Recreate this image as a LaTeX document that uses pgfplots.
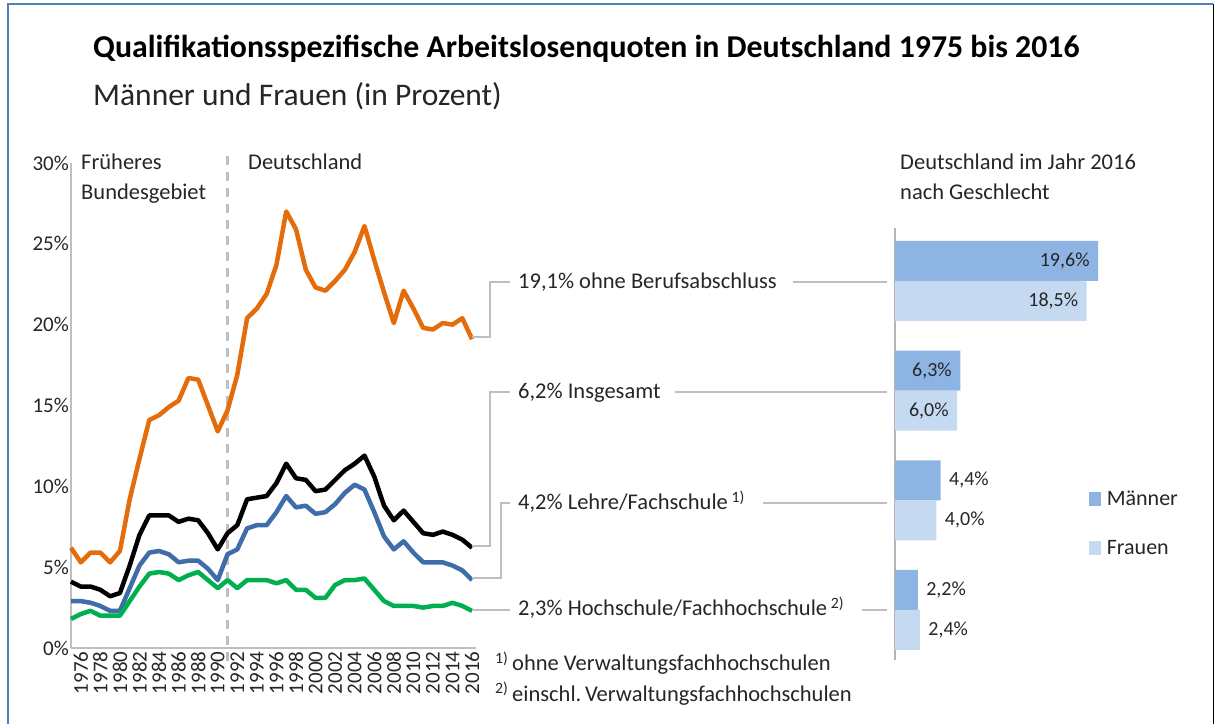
\documentclass[border=0pt]{standalone}
\usepackage{fontspec}
\setmainfont{Carlito}
\usepackage{pgfplots}
\pgfplotsset{compat=1.18}
\definecolor{cOr}{HTML}{E46C0A}
\definecolor{cBl}{HTML}{3F6DAA}
\definecolor{cGr}{HTML}{00B050}
\definecolor{cM}{HTML}{8DB4E2}
\definecolor{cF}{HTML}{C5D9F1}
\definecolor{cLine}{HTML}{BFBFBF}
\definecolor{cText}{HTML}{262626}
\definecolor{cFrame}{HTML}{4F81BD}
\newcommand{\bodyfont}{\fontsize{22.5}{27}\selectfont}
\begin{document}
\begin{tikzpicture}
\fill[white] (0pt,0pt) rectangle (1217pt,724pt);
\draw[cFrame, line width=2pt] (8pt,0pt) -- (8pt,720pt) -- (1213pt,720pt);
\draw[black, line width=1pt] (1213pt,720pt) -- (1213pt,0pt);

\begin{axis}[at={(71pt,76pt)}, anchor=south west, scale only axis,
  width=405pt, height=485pt,
  xmin=1975, xmax=2016.4, ymin=0, ymax=30,
  axis x line=bottom, axis y line=left,
  axis line style={draw=cLine, line width=1.5pt, -},
  major tick length=0pt,
  ytick={0,5,...,30},
  yticklabel={\pgfmathprintnumber{\tick}\%},
  xtick={1976,1978,...,2016},
  xticklabel style={rotate=90, anchor=east, /pgf/number format/1000 sep={}},
  tick label style={font=\fontsize{21}{24}\selectfont, text=cText},
  yticklabel style={inner sep=2pt},
  /pgf/number format/assume math mode=true,
  clip=false, line join=round]
\draw[cLine, line width=2.5pt, dash pattern=on 9pt off 7pt] (axis cs:1991,-0.8) -- (axis cs:1991,30.8);
\addplot[cOr, line width=4.5pt] coordinates {
(1975,6.2)(1976,5.3)(1977,5.9)(1978,5.9)(1979,5.3)(1980,6.0)(1981,9.2)(1982,11.7)
(1983,14.1)(1984,14.4)(1985,14.9)(1986,15.3)(1987,16.7)(1988,16.6)(1989,15.0)(1990,13.4)
(1991,14.7)(1992,16.9)(1993,20.4)(1994,21.0)(1995,21.9)(1996,23.7)(1997,27.0)(1998,25.9)
(1999,23.4)(2000,22.3)(2001,22.1)(2002,22.7)(2003,23.4)(2004,24.5)(2005,26.1)(2006,24.0)
(2007,22.0)(2008,20.1)(2009,22.1)(2010,21.0)(2011,19.8)(2012,19.7)(2013,20.1)(2014,20.0)
(2015,20.4)(2016,19.1)};
\addplot[black, line width=4.5pt] coordinates {
(1975,4.1)(1976,3.8)(1977,3.8)(1978,3.6)(1979,3.2)(1980,3.4)(1981,5.1)(1982,7.0)
(1983,8.2)(1984,8.2)(1985,8.2)(1986,7.8)(1987,8.0)(1988,7.9)(1989,7.1)(1990,6.1)
(1991,7.1)(1992,7.6)(1993,9.2)(1994,9.3)(1995,9.4)(1996,10.2)(1997,11.4)(1998,10.5)
(1999,10.4)(2000,9.7)(2001,9.8)(2002,10.4)(2003,11.0)(2004,11.4)(2005,11.9)(2006,10.6)
(2007,8.8)(2008,7.9)(2009,8.5)(2010,7.8)(2011,7.1)(2012,7.0)(2013,7.2)(2014,7.0)
(2015,6.7)(2016,6.2)};
\addplot[cBl, line width=4.5pt] coordinates {
(1975,2.9)(1976,2.9)(1977,2.8)(1978,2.6)(1979,2.3)(1980,2.3)(1981,3.7)(1982,5.1)
(1983,5.9)(1984,6.0)(1985,5.8)(1986,5.3)(1987,5.4)(1988,5.4)(1989,4.9)(1990,4.2)
(1991,5.8)(1992,6.1)(1993,7.4)(1994,7.6)(1995,7.6)(1996,8.4)(1997,9.4)(1998,8.7)
(1999,8.8)(2000,8.3)(2001,8.4)(2002,8.9)(2003,9.6)(2004,10.1)(2005,9.8)(2006,8.4)
(2007,6.9)(2008,6.1)(2009,6.6)(2010,5.9)(2011,5.3)(2012,5.3)(2013,5.3)(2014,5.1)
(2015,4.8)(2016,4.2)};
\addplot[cGr, line width=4.5pt] coordinates {
(1975,1.8)(1976,2.1)(1977,2.3)(1978,2.0)(1979,2.0)(1980,2.0)(1981,2.9)(1982,3.8)
(1983,4.6)(1984,4.7)(1985,4.6)(1986,4.2)(1987,4.5)(1988,4.7)(1989,4.2)(1990,3.7)
(1991,4.2)(1992,3.7)(1993,4.2)(1994,4.2)(1995,4.2)(1996,4.0)(1997,4.2)(1998,3.6)
(1999,3.6)(2000,3.1)(2001,3.1)(2002,3.9)(2003,4.2)(2004,4.2)(2005,4.3)(2006,3.6)
(2007,2.9)(2008,2.6)(2009,2.6)(2010,2.6)(2011,2.5)(2012,2.6)(2013,2.6)(2014,2.8)
(2015,2.6)(2016,2.3)};
\end{axis}

\begin{axis}[at={(895pt,64pt)}, anchor=south west, scale only axis,
  width=207.2pt, height=432pt,
  xmin=0, xmax=20, ymin=0.544, ymax=4.483,
  axis x line=none, axis y line=left,
  axis line style={draw=cLine!85!gray, line width=2.5pt, -},
  ytick=\empty, xtick=\empty,
  xbar, bar width=40pt, clip=false,
  point meta=x,
  nodes near coords={\pgfmathprintnumber[fixed, fixed zerofill, precision=1, use comma]{\pgfplotspointmeta}\%},
  every node near coord/.append style={font=\fontsize{20}{24}\selectfont, text=cText},
  /pgf/number format/assume math mode=true,
  legend style={at={(0.92,0.40)}, anchor=north west, draw=none, fill=none,
    font=\fontsize{22}{26}\selectfont, text=cText, row sep=29pt,
    legend cell align=left},
  ]
\addplot[fill=cM, draw=none, bar shift=20pt,
  every node near coord/.append style={anchor=east, xshift=-5pt},
  legend image code/.code={\fill[cM] (0pt,-7pt) rectangle (12pt,7pt);}]
  coordinates {(19.6,4) (6.3,3)};
\addlegendentry{\hspace{4pt}Männer}
\addplot[fill=cF, draw=none, bar shift=-20pt,
  every node near coord/.append style={anchor=east, xshift=-5pt},
  legend image code/.code={\fill[cF] (0pt,-7pt) rectangle (12pt,7pt);}]
  coordinates {(18.5,4) (6.0,3)};
\addlegendentry{\hspace{4pt}Frauen}
\addplot[fill=cM, draw=none, bar shift=20pt, forget plot,
  every node near coord/.append style={anchor=west, xshift=5pt}]
  coordinates {(4.4,2) (2.2,1)};
\addplot[fill=cF, draw=none, bar shift=-20pt, forget plot,
  every node near coord/.append style={anchor=west, xshift=5pt}]
  coordinates {(4.0,2) (2.4,1)};
\end{axis}

\begin{scope}[x=1pt, y=1pt]
\node[anchor=base west, inner sep=0pt, text=black, font=\fontsize{31.8}{36}\selectfont\bfseries] at (93,666) {Qualifikationsspezifische Arbeitslosenquoten in Deutschland 1975 bis 2016};
\node[anchor=base west, inner sep=0pt, text=cText, font=\fontsize{31.5}{36}\selectfont] at (93,618) {Männer und Frauen (in Prozent)};

\begin{scope}[every node/.style={anchor=base west, inner sep=0pt, text=cText, font=\bodyfont}]
\node at (81,554) {Früheres};
\node at (81,524) {Bundesgebiet};
\node at (248,554) {Deutschland};
\node at (900,554) {Deutschland im Jahr 2016};
\node at (900,524) {nach Geschlecht};
\node at (518,435) {19,1\% ohne Berufsabschluss};
\node at (518,325) {6,2\% Insgesamt};
\node at (518,214) {4,2\% Lehre/Fachschule\,\textsuperscript{1)}};
\node at (518,108) {2,3\% Hochschule/Fachhochschule\,\textsuperscript{2)}};
\node at (495,53) {\textsuperscript{1)}\,ohne Verwaltungsfachhochschulen};
\node at (495,23) {\textsuperscript{2)}\,einschl.\,Verwaltungsfachhochschulen};
\end{scope}

\begin{scope}[cLine, line width=2.5pt]
\draw (472,387) -- (490,387) -- (490,442) -- (510,442);
\draw (793,442) -- (887,442);
\draw (472,178) -- (490,178) -- (490,332) -- (510,332);
\draw (675,332) -- (887,332);
\draw (472,146) -- (501,146) -- (501,221) -- (510,221);
\draw (763,221) -- (887,221);
\draw (472,114) -- (510,114);
\draw (862,114) -- (887,114);
\end{scope}
\end{scope}
\end{tikzpicture}
\end{document}
